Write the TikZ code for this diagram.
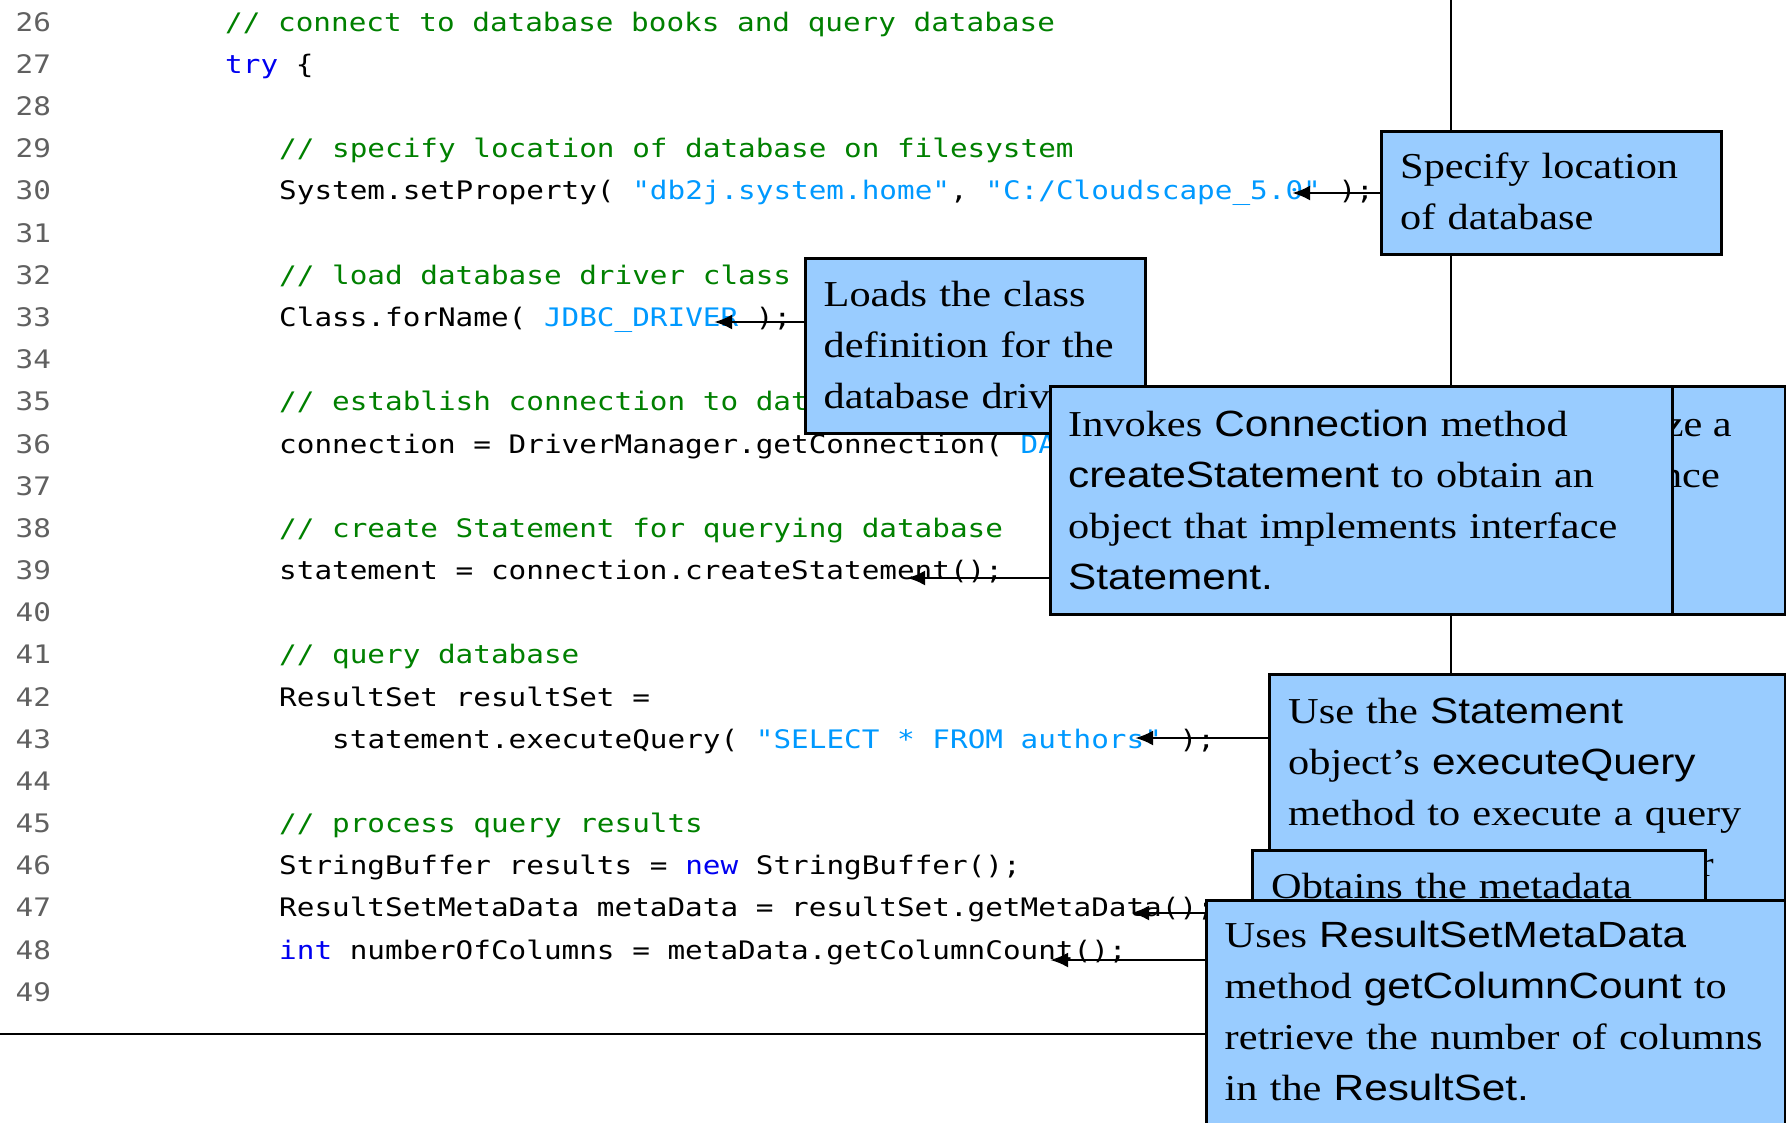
\documentclass[tikz,border=0pt]{standalone}
\usepackage{fontspec}
\usetikzlibrary{arrows.meta,calc}

% fonts: listing in a sans mono, callouts in a serif with sans API names
\newfontfamily\codefont[FakeStretch=1.15]{DejaVu Sans Mono}
\newfontfamily\notefont[FakeStretch=1.16]{Liberation Serif}
\newfontfamily\namefont[FakeStretch=1.16]{Liberation Sans}

\definecolor{boxblue}{RGB}{153,204,255}
\definecolor{cmtgreen}{RGB}{0,128,0}
\definecolor{kwblue}{RGB}{0,0,240}
\definecolor{strblue}{RGB}{0,153,255}
\definecolor{lngray}{RGB}{96,96,96}

\newcommand\apiname[1]{{\namefont #1}}
\newcommand\cmt[1]{\textcolor{cmtgreen}{#1}}
\newcommand\kw[1]{\textcolor{kwblue}{#1}}
\newcommand\str[1]{\textcolor{strblue}{#1}}

\pgfdeclarelayer{under}
\pgfsetlayers{under,main}

\tikzset{
  code/.style={anchor=base west, inner sep=0pt,
    font=\fontsize{25.5}{30}\codefont\frenchspacing},
  lineno/.style={code, text=lngray},
  note/.style={draw=black, line width=3pt, fill=boxblue, rectangle,
    inner sep=0pt, anchor=north west},
  notetext/.style={anchor=base west, inner sep=0pt, align=left,
    text width=640pt, font=\fontsize{36.5}{51}\notefont},
  notefrag/.style={anchor=base east, inner sep=0pt,
    font=\fontsize{36.5}{51}\notefont},
  pointer/.style={line width=2.8pt, -{Latex[length=18pt,width=15pt]}},
  guide/.style={line width=1.6pt},
  rule/.style={line width=2.6pt}
}

\begin{document}
\begin{tikzpicture}[x=1pt,y=-1pt]
\clip (0,0) rectangle (1786,1123);

% ---- callout boxes, back to front ----
\node[note, minimum width=340pt, minimum height=123pt] (spec) at (1380,130) {};
\node[notetext] (spectxt) at (1400,179) {Specify location\\of database};

\node[note, minimum width=340pt, minimum height=175pt] (loads) at (804,257) {};
\node[notetext] (loadstxt) at (823.5,307) {Loads the class\\definition for the\\database driv};

\node[note, minimum width=484pt, minimum height=228pt] (conn) at (1300,385) {};
\node[notefrag] (connfa) at (1732,436) {ze a};
\node[notefrag] (connfb) at (1720,487) {nce};

\node[note, minimum width=622pt, minimum height=228pt] (invk) at (1049,385) {};
\node[notetext] (invktxt) at (1068,436) {Invokes \apiname{Connection} method\\
  \apiname{createStatement} to obtain an\\object that implements interface\\
  \apiname{Statement.}};

\node[note, minimum width=516pt, minimum height=330pt] (usest) at (1268,673) {};
\node[notetext] (usesttxt) at (1288,723) {Use the \apiname{Statement}\\
  object’s \apiname{executeQuery}\\method to execute a query};
\node[notefrag] (usestfr) at (1714,876) {r};

\node[note, minimum width=453pt, minimum height=200pt] (meta) at (1251,849) {};
\node[notetext] (metatxt) at (1271,898) {Obtains the metadata};

\node[note, minimum width=579pt, minimum height=260pt] (cols) at (1205,899) {};
\node[notetext] (colstxt) at (1224.5,947) {Uses \apiname{ResultSetMetaData}\\
  method \apiname{getColumnCount} to\\retrieve the number of columns\\
  in the \apiname{ResultSet.}};

% ---- listing, separator lines and pointers underneath the boxes ----
\begin{pgfonlayer}{under}
\foreach \n in {26,...,49}
  \node[lineno] (ln\n) at (15.5,{31.3+(\n-26)*42.17}) {\n};

\node[code] (c26) at (225,31.3) {\cmt{// connect to database books and query database}};
\node[code] (c27) at (225,73.5) {\kw{try} \{};
\node[code] (c29) at (279,157.8) {\cmt{// specify location of database on filesystem}};
\node[code] (c30) at (279,200) {System.setProperty( \str{"db2j.system.home"}, \str{"C:/Cloudscape\_5.0"} );};
\node[code] (c32) at (279,284.3) {\cmt{// load database driver class}};
\node[code] (c33) at (279,326.5) {Class.forName( \str{JDBC\_DRIVER} );};
\node[code] (c35) at (279,410.8) {\cmt{// establish connection to dat}};
\node[code] (c36) at (279,453) {connection = DriverManager.getConnection( \str{DA}};
\node[code] (c38) at (279,537.3) {\cmt{// create Statement for querying database}};
\node[code] (c39) at (279,579.5) {statement = connection.createStatement();};
\node[code] (c41) at (279,663.9) {\cmt{// query database}};
\node[code] (c42) at (279,706) {ResultSet resultSet =};
\node[code] (c43) at (332,748.2) {statement.executeQuery( \str{"SELECT * FROM authors"} );};
\node[code] (c45) at (279,832.5) {\cmt{// process query results}};
\node[code] (c46) at (279,874.7) {StringBuffer results = \kw{new} StringBuffer();};
\node[code] (c47) at (279,916.9) {ResultSetMetaData metaData = resultSet.getMetaData();};
\node[code] (c48) at (279,959) {\kw{int} numberOfColumns = metaData.getColumnCount();};

\coordinate (vtop) at (1451,0);
\draw[guide] (vtop) -- (vtop |- usest.north);
\coordinate (rulestart) at (0,1034);
\draw[rule] (rulestart) -- (rulestart -| cols.west);

\coordinate (t30) at (1292,193);
\coordinate (t33) at (714,322);
\coordinate (t39) at (907,578);
\coordinate (t43) at (1135,738);
\coordinate (t47) at (1131,913);
\coordinate (t48) at (1050,960);

\draw[pointer] (spec.west |- t30) -- (t30);
\draw[pointer] (loads.west |- t33) -- (t33);
\draw[pointer] (invk.west |- t39) -- (t39);
\draw[pointer] (usest.west |- t43) -- (t43);
\draw[pointer] (meta.west |- t47) -- (t47);
\draw[pointer] (cols.west |- t48) -- (t48);
\end{pgfonlayer}
\end{tikzpicture}
\end{document}
